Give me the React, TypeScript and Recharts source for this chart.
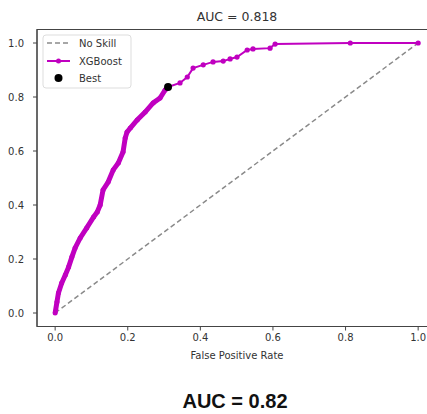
import {
  ComposedChart,
  Line,
  Scatter,
  XAxis,
  YAxis,
  ReferenceArea,
} from "recharts";

// ROC curve (false positive rate / true positive rate)
const fprValues = [
  0, 0.005, 0.009, 0.018, 0.028, 0.037, 0.046, 0.055, 0.069, 0.087, 0.106,
  0.116, 0.124, 0.132, 0.146, 0.16, 0.174, 0.187, 0.193, 0.198, 0.207, 0.226,
  0.248, 0.27, 0.289, 0.303, 0.311, 0.344, 0.364, 0.38, 0.408, 0.435, 0.463,
  0.482, 0.501, 0.529, 0.545, 0.592, 0.606, 0.813, 1.0,
];
const tprValues = [
  0, 0.041, 0.074, 0.111, 0.141, 0.17, 0.207, 0.241, 0.278, 0.315, 0.356,
  0.374, 0.4, 0.456, 0.485, 0.53, 0.556, 0.596, 0.648, 0.67, 0.685, 0.715,
  0.744, 0.778, 0.796, 0.826, 0.837, 0.852, 0.874, 0.907, 0.919, 0.93, 0.933,
  0.941, 0.948, 0.974, 0.978, 0.981, 0.996, 1.0, 1.0,
];
const noSkillFpr = [0, 1];
const noSkillTpr = [0, 1];
const bestFpr = [0.311];
const bestTpr = [0.837];
const ticks = [0, 0.2, 0.4, 0.6, 0.8, 1.0];
const denseUpTo = 0.311;

const rocData = fprValues.map((fpr, i) => ({ fpr, tpr: tprValues[i] }));
const denseData = rocData.filter((d) => d.fpr <= denseUpTo);
const sparseData = rocData.filter((d) => d.fpr >= denseUpTo);
const noSkillData = noSkillFpr.map((fpr, i) => ({ fpr, tpr: noSkillTpr[i] }));
const bestData = bestFpr.map((fpr, i) => ({ fpr, tpr: bestTpr[i] }));

const MAGENTA = "#c000c0";
const FONT = "DejaVu Sans, sans-serif";
const tickStyle = { fontSize: 10, fill: "#333", fontFamily: FONT };
const fmt = (v: number) => v.toFixed(1);

const App = () => {
  return (
    <div
      style={{
        position: "fixed",
        top: 0,
        left: 0,
        width: 427,
        height: 414,
        overflow: "hidden",
        background: "#fff",
      }}
    >
      <ComposedChart
        width={460}
        height={414}
        margin={{ top: 29.5, right: 23.7, bottom: 57.5, left: 0 }}
      >
        <XAxis
          type="number"
          dataKey="fpr"
          domain={[-0.05, 1.05]}
          ticks={ticks}
          tickFormatter={fmt}
          allowDataOverflow
          height={30}
          tickSize={4}
          tickMargin={3}
          tick={tickStyle}
          stroke="#444"
          tickLine={{ stroke: "#444" }}
        />
        <YAxis
          type="number"
          dataKey="tpr"
          domain={[-0.05, 1.05]}
          ticks={ticks}
          tickFormatter={fmt}
          allowDataOverflow
          width={37}
          tickSize={4}
          tickMargin={9}
          tick={tickStyle}
          stroke="#444"
          tickLine={{ stroke: "#444" }}
        />
        <ReferenceArea
          x1={-0.05}
          x2={1.05}
          y1={-0.05}
          y2={1.05}
          stroke="#444"
          strokeWidth={1.2}
          fill="none"
        />
        <Line
          data={noSkillData}
          dataKey="tpr"
          stroke="#8a8a8a"
          strokeWidth={1.5}
          strokeDasharray="5 3"
          dot={false}
          isAnimationActive={false}
        />
        <Line
          data={denseData}
          dataKey="tpr"
          stroke={MAGENTA}
          strokeWidth={5}
          dot={{ r: 2.5, fill: MAGENTA, stroke: MAGENTA, strokeWidth: 0 }}
          isAnimationActive={false}
        />
        <Line
          data={sparseData}
          dataKey="tpr"
          stroke={MAGENTA}
          strokeWidth={2}
          dot={{ r: 2.6, fill: MAGENTA, stroke: MAGENTA, strokeWidth: 0 }}
          isAnimationActive={false}
        />
        <Scatter
          data={bestData}
          dataKey="tpr"
          fill="#000"
          shape={(p: any) => <circle cx={p.cx} cy={p.cy} r={4} fill="#000" />}
          isAnimationActive={false}
        />
      </ComposedChart>

      <svg
        width={427}
        height={414}
        style={{ position: "absolute", top: 0, left: 0, pointerEvents: "none" }}
      >
        <text x={237} y={21} textAnchor="middle" fontSize={12.5} fill="#333" fontFamily={FONT}>
          AUC = 0.818
        </text>
        <text x={237} y={359} textAnchor="middle" fontSize={10} fill="#333" fontFamily={FONT}>
          False Positive Rate
        </text>
        <text
          x={235}
          y={408}
          textAnchor="middle"
          fontSize={20}
          fontWeight="bold"
          fill="#111"
          fontFamily="Liberation Sans, Arial, sans-serif"
        >
          AUC = 0.82
        </text>

        {/* legend */}
        <rect x={43} y={35} width={88} height={53} rx={3} fill="#fff" fillOpacity={0.85} stroke="#ddd" />
        <line x1={47} y1={43} x2={70} y2={43} stroke="#8a8a8a" strokeWidth={1.5} strokeDasharray="5 3" />
        <text x={79} y={46.5} fontSize={10} fill="#333" fontFamily={FONT}>No Skill</text>
        <line x1={47} y1={61} x2={70} y2={61} stroke={MAGENTA} strokeWidth={2} />
        <circle cx={58.5} cy={61} r={2.5} fill={MAGENTA} />
        <text x={79} y={64.5} fontSize={10} fill="#333" fontFamily={FONT}>XGBoost</text>
        <circle cx={58.5} cy={78} r={4} fill="#000" />
        <text x={79} y={81.5} fontSize={10} fill="#333" fontFamily={FONT}>Best</text>
      </svg>
    </div>
  );
};

export default App;
